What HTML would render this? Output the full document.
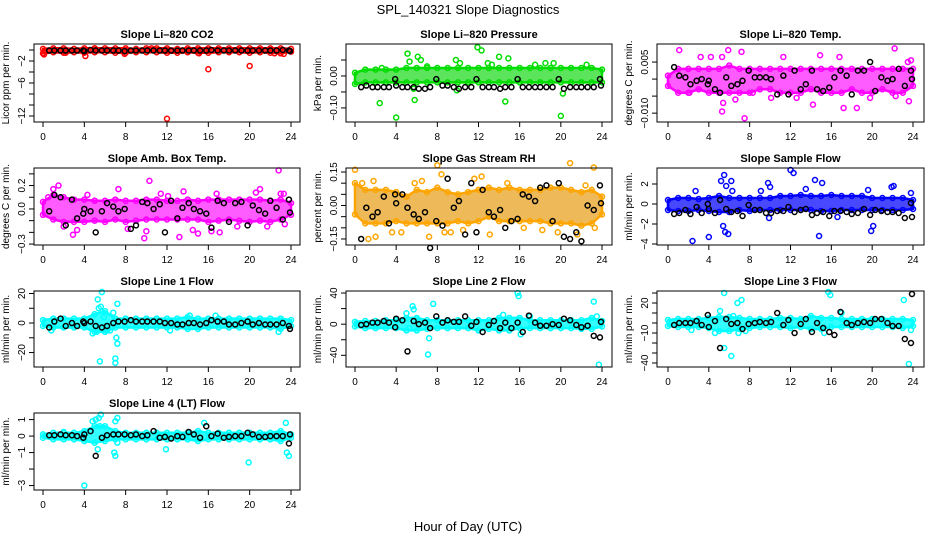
<!DOCTYPE html>
<html><head><meta charset="utf-8"><style>
html,body{margin:0;padding:0;background:#fff}
svg{display:block;font-family:"Liberation Sans",Arial,sans-serif}
</style></head><body>
<svg id="chart" width="936" height="540" viewBox="0 0 936 540" xmlns="http://www.w3.org/2000/svg">
<rect width="936" height="540" fill="#fff"/>
<text x="468" y="14" text-anchor="middle" font-size="13">SPL_140321  Slope Diagnostics</text>
<text x="468" y="531" text-anchor="middle" font-size="13">Hour of Day (UTC)</text>
</svg>
<script>
const bandHours=[0,1,2,3,4,5,6,7,8,9,10,11,12,13,14,15,16,17,18,19,20,21,22,23,24];
const blackHours=[0.6,1.1,1.7,2.2,2.8,3.3,3.9,4.0,4.6,5.1,5.7,6.2,6.8,7.3,7.9,8.5,9.0,9.6,10.1,10.7,11.3,11.8,12.4,13.0,13.5,14.1,14.6,15.2,15.8,16.3,16.9,17.5,18.0,18.6,19.2,19.8,20.3,20.9,21.5,22.0,22.6,23.2,23.8,23.9];
const xTicks=[0,4,8,12,16,20,24];

const co2Hi=[0.2,0.3,0.3,0.2,0.3,0.3,0.3,0.3,0.3,0.2,0.3,0.3,0.3,0.2,0.3,0.3,0.3,0.3,0.3,0.3,0.3,0.3,0.3,0.3,0.2];
const co2Lo=[-0.6,-0.4,-0.5,-0.4,-0.5,-0.4,-0.4,-0.5,-0.5,-0.4,-0.4,-0.4,-0.5,-0.5,-0.4,-0.5,-0.5,-0.4,-0.4,-0.4,-0.5,-0.4,-0.5,-0.6,-0.3];
const co2Pts=[[0.1,-0.8],[4.1,-1.1],[7.9,-0.7],[12,-12.5],[16,-3.5],[20,-2.9],[23.3,-0.7],[15.1,-0.6],[22.4,-0.6],[2.2,-0.5],[5,0.3],[10.5,0.3]];
const co2Black=[-0.1,-0.1,-0.1,-0.1,-0.1,-0.1,-0.1,-0.2,0,-0.1,-0.1,-0.1,-0.1,-0.1,-0.2,-0.1,-0.1,-0.1,-0.1,-0.1,-0.1,-0.1,-0.1,-0.1,-0.1,-0.1,-0.1,-0.1,-0.1,0,-0.1,-0.1,-0.1,-0.1,-0.1,-0.1,-0.1,-0.1,-0.1,-0.1,-0.1,0,-0.1,-0.2];

const presHi=[0.01,0.02,0.02,0.02,0.02,0.025,0.025,0.025,0.025,0.025,0.025,0.025,0.025,0.025,0.025,0.025,0.025,0.025,0.025,0.025,0.025,0.025,0.025,0.025,0.02];
const presLo=[-0.025,-0.02,-0.02,-0.02,-0.02,-0.02,-0.02,-0.02,-0.02,-0.02,-0.02,-0.02,-0.02,-0.02,-0.02,-0.02,-0.02,-0.02,-0.02,-0.02,-0.02,-0.02,-0.02,-0.02,-0.02];
const presPts=[[2.4,-0.085],[4,-0.13],[5.1,0.07],[5.3,0.045],[5.8,-0.075],[6.1,0.06],[6.4,0.05],[7,0.03],[9.8,0.05],[10.2,0.04],[9.9,-0.045],[11.9,0.09],[12.3,0.08],[12.9,0.04],[13.3,0.035],[14,0.06],[14.6,-0.08],[14.9,0.055],[17.5,0.035],[18.5,0.04],[19.3,0.04],[20,-0.125],[20.2,-0.055],[22.5,0.035],[2.6,0.025],[5.7,-0.04]];
const presBlack=[-0.035,-0.03,-0.035,-0.035,-0.035,-0.035,-0.01,-0.03,-0.035,-0.035,-0.035,-0.04,-0.04,-0.035,-0.01,-0.03,-0.03,-0.035,-0.04,-0.035,-0.035,-0.01,-0.035,-0.035,-0.035,-0.04,-0.035,-0.035,-0.01,-0.035,-0.035,-0.035,-0.035,-0.035,-0.035,-0.01,-0.04,-0.035,-0.035,-0.035,-0.035,-0.035,-0.01,-0.03];

const tempHi=[0.001,0.003,0.003,0.003,0.003,0.003,0.004,0.003,0.003,0.003,0.003,0.003,0.003,0.003,0.003,0.003,0.003,0.003,0.003,0.003,0.003,0.003,0.003,0.003,0.003];
const tempLo=[-0.002,-0.004,-0.004,-0.003,-0.004,-0.004,-0.004,-0.004,-0.004,-0.003,-0.003,-0.004,-0.004,-0.004,-0.003,-0.004,-0.004,-0.004,-0.003,-0.004,-0.004,-0.003,-0.004,-0.004,-0.002];
const tempPts=[[1.1,0.0085],[3.2,0.0065],[4.2,0.0065],[5.3,0.0065],[5.9,0.0085],[7.2,0.008],[7.5,-0.0115],[5.3,-0.0095],[5.4,-0.007],[6.6,-0.006],[10.1,-0.0055],[11.3,0.0065],[12.6,-0.0055],[14.2,-0.0075],[14.9,0.007],[16.8,0.0065],[17.2,-0.0085],[18.5,-0.0085],[19.8,-0.0055],[22.2,0.009],[22.3,-0.005],[23.6,-0.0065],[23.5,0.005],[23.8,0.0055],[2.1,-0.004],[8.3,-0.004]];
const tempBlack=[0.0035,0.001,0.0005,-0.0015,-0.0005,0,-0.0015,-0.0005,-0.003,-0.004,0.0005,-0.002,-0.0015,-0.0005,0.0025,0.0005,0.0005,0.0005,0,-0.0045,0.001,-0.0045,0.0025,-0.003,-0.0015,0.0025,-0.003,-0.0035,-0.0025,0.0005,0.0025,0.001,-0.0045,0.0025,0.0025,0.005,-0.0035,0.0005,-0.0005,0,0.003,-0.002,0.0025,0];

const ambHi=[0.06,0.12,0.1,0.08,0.08,0.07,0.07,0.08,0.07,0.07,0.08,0.08,0.07,0.07,0.08,0.07,0.08,0.08,0.08,0.08,0.08,0.08,0.07,0.08,0.05];
const ambLo=[-0.05,-0.09,-0.11,-0.11,-0.11,-0.1,-0.11,-0.09,-0.11,-0.1,-0.09,-0.09,-0.09,-0.09,-0.09,-0.09,-0.11,-0.1,-0.09,-0.1,-0.11,-0.1,-0.11,-0.09,-0.05];
const ambPts=[[1.5,0.2],[2.9,-0.22],[3.3,-0.18],[5,0.07],[7.3,0.17],[9.8,-0.25],[10,-0.19],[10.3,0.24],[11.4,0.13],[13.2,-0.24],[13.6,0.15],[14.5,-0.18],[15,-0.21],[16.3,-0.19],[16.8,0.13],[17.1,-0.2],[21,0.17],[21.7,-0.15],[22.8,0.33],[23.4,-0.13],[23.3,0.13],[2,-0.15],[0.5,0.1],[1,0.17],[4.3,0.12],[8.2,-0.17],[12.1,0.11],[18.8,-0.15],[20.6,0.14],[23,0.13]];
const ambBlack=[-0.02,0.12,0.1,-0.14,0.08,-0.08,-0.04,0,-0.02,-0.2,-0.02,0.05,0.02,-0.02,0,-0.17,-0.14,0.06,0.05,0,0.04,-0.2,0.07,-0.08,0.01,0.05,0,-0.02,-0.04,-0.16,0.07,0.05,-0.11,0.05,0.06,-0.14,0.03,-0.01,-0.04,0.07,0.01,-0.09,0.08,-0.03];

const rhHi=[0.1,0.07,0.07,0.07,0.06,0.04,0.07,0.06,0.08,0.06,0.05,0.06,0.07,0.08,0.07,0.08,0.07,0.07,0.07,0.08,0.08,0.07,0.06,0.07,0.04];
const rhLo=[-0.04,-0.08,-0.08,-0.08,-0.07,-0.08,-0.08,-0.08,-0.08,-0.08,-0.07,-0.08,-0.07,-0.05,-0.07,-0.07,-0.07,-0.07,-0.07,-0.08,-0.08,-0.08,-0.09,-0.08,-0.04];
const rhPts=[[0,0.16],[1.3,-0.15],[2,-0.14],[3.6,-0.12],[4.5,-0.12],[6.5,0.11],[7.2,-0.14],[8,0.18],[8.4,0.14],[8.7,-0.12],[9.3,-0.12],[11.6,0.12],[12.3,0.13],[13.1,-0.13],[16.4,-0.1],[19.7,-0.12],[20.9,0.19],[21.6,-0.13],[23.2,0.17],[23.3,-0.1],[0.7,0.1],[1.8,0.11],[5.8,0.1],[10.5,-0.11],[14.8,0.1],[18.2,-0.11],[22.4,0.09]];
const rhBlack=[-0.15,-0.01,-0.05,-0.03,0.04,-0.08,0.05,0.01,0.05,-0.01,-0.04,-0.06,-0.03,-0.19,-0.07,-0.09,0.12,-0.01,0.02,-0.13,0.1,-0.12,0.07,-0.03,-0.05,-0.02,-0.1,-0.07,-0.06,0.05,0.04,0.02,0.08,0.09,-0.07,0.1,-0.14,-0.15,-0.12,-0.16,0,-0.02,0.09,0.01];

const flowHi=[0.4,0.6,0.6,0.5,0.6,0.8,0.6,0.6,0.6,0.6,0.6,0.8,0.8,0.9,0.8,0.8,0.9,0.8,0.8,0.8,0.6,0.6,0.6,0.6,0.4];
const flowLo=[-0.6,-0.7,-0.7,-0.6,-0.7,-0.8,-0.8,-0.6,-0.7,-0.6,-0.6,-0.6,-0.6,-0.6,-0.6,-0.7,-0.7,-0.6,-0.6,-0.6,-0.6,-0.6,-0.6,-0.6,-0.5];
const flowPts=[[2.4,-3.7],[2.7,1.3],[4,-3.3],[5.2,2.3],[5.5,2.9],[5.7,1.8],[5.4,-2.2],[5.6,-2.8],[5.9,-3],[6.2,2.3],[6.3,1.3],[9.1,1.3],[9.8,2.1],[10,1.7],[9.9,-1.4],[12,3.4],[12.3,3.1],[13.5,1.5],[14.4,2.4],[14.8,-3.2],[15.1,2.1],[19.6,1.4],[19.9,-2.7],[20.1,-2.2],[21.9,1.7],[22.1,1.8],[23.8,1.1],[16.6,-1.3]];
const flowBlack=[-1,-0.9,-0.6,-1,-0.3,-0.9,0,-0.5,-0.9,0.4,-0.5,-0.8,-0.7,-1.2,-0.1,-0.6,-0.6,-0.9,-0.9,-0.7,-0.7,-0.3,-0.8,-0.6,-0.5,-1.1,-0.9,-0.8,-1.2,-0.7,-0.7,-0.8,-1,-0.9,-0.5,-1.1,-0.6,-0.7,-0.8,-0.8,-0.9,-1.4,0.1,-1.3];

const l1Hi=[2,3,3,3,3,6,8,3,3,3,3,3,3,3,4,3,3,3,3,3,3,3,3,3,2];
const l1Lo=[-2,-3,-3,-3,-3,-6,-6,-3,-3,-3,-3,-3,-3,-3,-4,-4,-3,-3,-3,-3,-3,-3,-3,-4,-2];
const l1Pts=[[0.8,-5],[4.8,-7],[5.2,-6],[5.3,16],[5.4,10],[5.6,11],[5.7,21],[5.5,-26],[5.9,4],[6.2,-5],[6.5,-5],[6.8,7],[7,-27],[7,-24],[7.1,-10],[7.2,-14],[7.2,13],[14.2,5],[16.7,5],[22.8,-6],[12.3,-5]];
const l1Black=[-3,1,3,-2,0,-2,1,0,1,-2,-3,-2,0,1,1,2,1,1,1,1,1,0,0,-1,-1,0,0,-1,0,2,1,1,-1,-1,0,1,-1,0,-1,-1,-1,0,-2,-4];

const l2Hi=[3,4,4,5,5,8,8,5,5,5,5,5,5,5,8,8,8,5,5,5,5,5,5,8,4];
const l2Lo=[-3,-5,-5,-5,-5,-8,-8,-6,-5,-5,-5,-5,-8,-6,-8,-8,-5,-5,-5,-5,-5,-5,-6,-6,-3];
const l2Pts=[[5,14],[5.3,-5],[5.6,23],[5.7,19],[7.2,-18],[7.1,-39],[7.6,26],[14.4,12],[15.8,40],[15.9,36],[16.1,-13],[17,10],[23.2,29],[23.7,-52],[23.5,10]];
const l2Black=[-1,0,2,2,4,2,-4,7,5,-35,4,0,2,-5,10,2,5,3,3,10,-2,3,-10,-1,4,-5,2,-5,2,-10,11,2,-2,-2,0,-1,7,5,-1,-4,-2,-15,-17,3];

const l3Hi=[3,4,4,4,5,6,6,5,4,4,4,5,5,4,7,5,5,4,4,4,4,4,4,4,3];
const l3Lo=[-3,-4,-4,-4,-5,-8,-8,-6,-5,-4,-4,-4,-5,-4,-6,-6,-4,-4,-4,-4,-4,-4,-4,-5,-3];
const l3Pts=[[4.6,-10],[5.1,12],[5.5,30],[5.5,-25],[6.2,-33],[6.4,7],[6.8,20],[7.2,23],[6.9,-10],[7.6,-8],[15.7,31],[15.9,28],[15.3,-10],[17,10],[23.1,23],[23.6,-41],[23.8,-7],[2.3,-7]];
const l3Black=[-2,0,0,0,2,-2,8,-4,2,-25,4,-1,0,-6,-1,0,1,0,1,10,-2,3,-10,-1,4,-9,0,-5,-9,-12,11,0,-2,0,1,0,4,4,0,-3,-3,-16,-20,29];

const l4Hi=[0.1,0.2,0.2,0.2,0.3,0.6,0.6,0.3,0.2,0.2,0.2,0.2,0.2,0.2,0.2,0.3,0.2,0.2,0.2,0.2,0.2,0.2,0.2,0.3,0.1];
const l4Lo=[-0.1,-0.2,-0.2,-0.2,-0.3,-0.4,-0.3,-0.2,-0.2,-0.2,-0.2,-0.2,-0.2,-0.2,-0.2,-0.3,-0.2,-0.2,-0.2,-0.2,-0.2,-0.2,-0.2,-0.3,-0.1];
const l4Pts=[[4,-3],[4.8,0.9],[5.1,1],[5.4,1.1],[5.5,0.6],[5.6,1.3],[5.3,-0.8],[6.9,-1],[7,-1.2],[7,0.9],[7.2,1.1],[7.2,-0.4],[11.9,-0.8],[15.6,0.8],[19.9,-1.6],[23.5,0.8],[23.6,-1],[23.8,-1.2],[2,0.25]];
const l4Black=[0.05,0.05,0.1,0.05,0.05,0,-0.1,0.1,0.3,-1.2,-0.1,0.05,0.1,0.1,0.1,0.05,0.1,0,0.05,0.3,-0.1,-0.05,-0.15,0,-0.05,0.25,0.1,-0.1,0.6,0,0.15,-0.1,-0.05,0,0,0.2,0.1,-0.05,-0.05,0,0,0,-0.45,0.1];

const NS='http://www.w3.org/2000/svg';
const svg=document.getElementById('chart');
const cols=[{l:34,r:300,x0:43,x1:291},{l:346,r:612,x0:355,x1:602},{l:657,r:924,x0:668,x1:913}];
const rows=[{t:44,b:122},{t:168,b:245},{t:291,b:367},{t:413,b:490}];

const panels=[
 {key:'co2',title:'Slope Li\u2013820 CO2',yt:'Licor ppm per min.',c:0,r:0,color:'#ff0000',fill:'#ff0000',dom:[-13.09,1.09],ticks:[0,-2,-4,-6,-8,-10,-12],labels:[[-2,'\u22122'],[-6,'\u22126'],[-12,'\u221212']],hi:co2Hi,lo:co2Lo,pts:co2Pts,blk:co2Black},
 {key:'pressure',title:'Slope Li\u2013820 Pressure',yt:'kPa per min.',c:1,r:0,color:'#00dd00',fill:'#33dd33',dom:[-0.144,0.10],ticks:[0.05,0,-0.05,-0.1],labels:[[0,'0.00'],[-0.1,'\u22120.10']],hi:presHi,lo:presLo,pts:presPts,blk:presBlack},
 {key:'temp',title:'Slope Li\u2013820 Temp.',yt:'degrees C per min.',c:2,r:0,color:'#ff00ff',fill:'#ff33ff',dom:[-0.0126,0.0103],ticks:[0.005,0,-0.005,-0.01],labels:[[0.005,'0.005'],[-0.01,'\u22120.010']],hi:tempHi,lo:tempLo,pts:tempPts,blk:tempBlack},
 {key:'amb',title:'Slope Amb. Box Temp.',yt:'degrees C per min.',c:0,r:1,color:'#ff00ff',fill:'#ff33ff',dom:[-0.308,0.35],ticks:[0.3,0.2,0.1,0,-0.1,-0.2,-0.3],labels:[[0.2,'0.2'],[0,'0.0'],[-0.3,'\u22120.3']],hi:ambHi,lo:ambLo,pts:ambPts,blk:ambBlack},
 {key:'rh',title:'Slope Gas Stream RH',yt:'percent per min.',c:1,r:1,color:'#ffa500',fill:'#e8a830',dom:[-0.177,0.168],ticks:[0.15,0.1,0.05,0,-0.05,-0.1,-0.15],labels:[[0.15,'0.15'],[0,'0.00'],[-0.15,'\u22120.15']],hi:rhHi,lo:rhLo,pts:rhPts,blk:rhBlack},
 {key:'sample',title:'Slope Sample Flow',yt:'ml/min per min.',c:2,r:1,color:'#0000ff',fill:'#1a1aff',dom:[-4.1,3.6],ticks:[2,0,-2,-4],labels:[[2,'2'],[0,'0'],[-2,'\u22122'],[-4,'\u22124']],hi:flowHi,lo:flowLo,pts:flowPts,blk:flowBlack},
 {key:'line1',title:'Slope Line 1 Flow',yt:'ml/min per min.',c:0,r:2,color:'#00ffff',fill:'#00ffff',dom:[-29.8,21.7],ticks:[20,10,0,-10,-20],labels:[[20,'20'],[0,'0'],[-20,'\u221220']],hi:l1Hi,lo:l1Lo,pts:l1Pts,blk:l1Black},
 {key:'line2',title:'Slope Line 2 Flow',yt:'ml/min per min.',c:1,r:2,color:'#00ffff',fill:'#00ffff',dom:[-55,42.6],ticks:[40,20,0,-20,-40],labels:[[40,'40'],[0,'0'],[-40,'\u221240']],hi:l2Hi,lo:l2Lo,pts:l2Pts,blk:l2Black},
 {key:'line3',title:'Slope Line 3 Flow',yt:'ml/min per min.',c:2,r:2,color:'#00ffff',fill:'#00ffff',dom:[-44,32],ticks:[30,20,10,0,-10,-20,-30,-40],labels:[[20,'20'],[-10,'\u221210'],[-40,'\u221240']],hi:l3Hi,lo:l3Lo,pts:l3Pts,blk:l3Black},
 {key:'line4',title:'Slope Line 4 (LT) Flow',yt:'ml/min per min.',c:0,r:3,color:'#00ffff',fill:'#00ffff',dom:[-3.27,1.4],ticks:[1,0,-1,-2,-3],labels:[[1,'1'],[0,'0'],[-1,'\u22121'],[-3,'\u22123']],hi:l4Hi,lo:l4Lo,pts:l4Pts,blk:l4Black}
];

function mk(tag,attrs,parent){const e=document.createElementNS(NS,tag);for(const k in attrs)e.setAttribute(k,attrs[k]);(parent||svg).appendChild(e);return e;}

panels.forEach(p=>{
 const C=cols[p.c],R=rows[p.r];
 const xs=h=>C.x0+(C.x1-C.x0)*h/24;
 const ys=v=>R.b-(R.b-R.t)*(v-p.dom[0])/(p.dom[1]-p.dom[0]);
 const g=mk('g',{});
 
 
 let d='';
 p.hi.forEach((v,i)=>{d+=(i?'L':'M')+xs(bandHours[i]).toFixed(1)+','+ys(v).toFixed(1);});
 for(let i=p.lo.length-1;i>=0;i--){d+='L'+xs(bandHours[i]).toFixed(1)+','+ys(p.lo[i]).toFixed(1);}
 const band=mk('path',{d:d+'Z',fill:p.fill,'fill-opacity':0.8,stroke:p.color,'stroke-width':2.5,'stroke-linejoin':'round'},g);
 
 
 bandHours.forEach((h,i)=>{
  [p.hi[i],p.lo[i]].forEach(v=>{
   const c=mk('circle',{cx:xs(h),cy:ys(v),r:2.5,fill:'none',stroke:p.color,'stroke-width':1.5},g);
   
   
  });
 });
 p.pts.forEach(q=>{
  const c=mk('circle',{cx:xs(q[0]),cy:ys(q[1]),r:2.5,fill:'none',stroke:p.color,'stroke-width':1.5},g);
  
  
 });
 p.blk.forEach((v,i)=>{
  if(i>=blackHours.length)return;
  const c=mk('circle',{cx:xs(blackHours[i]),cy:ys(v),r:2.5,fill:'none',stroke:'#000','stroke-width':1.5},g);
  
  
 });
 const box=mk('rect',{x:C.l,y:R.t,width:C.r-C.l,height:R.b-R.t,fill:'none',stroke:'#000','stroke-width':1},g);
 
 
 const t=mk('text',{x:(C.l+C.r)/2,y:R.t-6,'text-anchor':'middle','font-size':11,'font-weight':'bold'},g);
 t.textContent=p.title;
 
 
 xTicks.forEach(h=>{
  const ln=mk('line',{x1:xs(h),x2:xs(h),y1:R.b,y2:R.b+5,stroke:'#000','stroke-width':1},g);
  
  
  const tx=mk('text',{x:xs(h),y:R.b+18,'text-anchor':'middle','font-size':10},g);
  tx.textContent=String(h);
  
  
 });
 p.ticks.forEach(v=>{
  const ln=mk('line',{x1:C.l-5,x2:C.l,y1:ys(v),y2:ys(v),stroke:'#000','stroke-width':1},g);
  
  
 });
 p.labels.forEach(L=>{
  const y=ys(L[0]),x=C.l-9;
  const tx=mk('text',{x:x,y:y,'text-anchor':'middle','font-size':10,transform:'rotate(-90 '+x+' '+y+')'},g);
  tx.textContent=L[1];
  
  
 });
 const yx=C.l-25,yy=(R.t+R.b)/2;
 const yt=mk('text',{x:yx,y:yy,'text-anchor':'middle','font-size':10,transform:'rotate(-90 '+yx+' '+yy+')'},g);
 yt.textContent=p.yt;
 
 
});
</script>
</body></html>
